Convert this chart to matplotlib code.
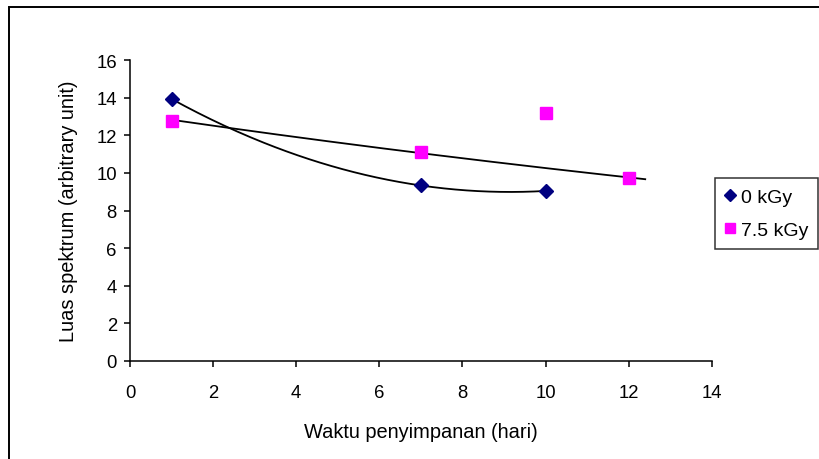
import numpy as np
import matplotlib
matplotlib.use('Agg')
import matplotlib.pyplot as plt
from matplotlib.patches import Rectangle

plt.rcParams['font.family'] = ['Liberation Sans', 'DejaVu Sans']

# hari penyimpanan dan luas spektrum
hari_0 = [1, 7, 10]
luas_0 = [13.93, 9.33, 9.04]
hari_75 = [1, 7, 10, 12]
luas_75 = [12.78, 11.13, 13.17, 9.72]
labels = ['0 kGy', '7.5 kGy']
xticks = [0, 2, 4, 6, 8, 10, 12, 14]
yticks = [0, 2, 4, 6, 8, 10, 12, 14, 16]

fig = plt.figure(figsize=(8.19, 4.6), dpi=100)
ax = fig.add_axes([130/819, 1-362/460, (711.7-130)/819, (362-61)/460])

ax.plot(hari_0, luas_0, linestyle='none', marker='D', ms=7.5, color='#000080', label=labels[0])
ax.plot(hari_75, luas_75, linestyle='none', marker='s', ms=8, color='#FF00FF', label=labels[1])

# trendline 0 kGy: polynomial (order 2)
x0 = np.array(hari_0, dtype=float)
p0 = np.polyfit(x0, luas_0, 2)
xs0 = np.linspace(x0.min(), x0.max(), 200)
ax.plot(xs0, np.polyval(p0, xs0), color='k', lw=1.3, zorder=1)

# trendline 7.5 kGy: exponential fit (day 10 left out)
x1 = np.array([hari_75[i] for i in (0, 1, 3)], dtype=float)
y1 = np.array([luas_75[i] for i in (0, 1, 3)])
b1, a1 = np.polyfit(x1, np.log(y1), 1)
xs1 = np.linspace(x1.min(), x1.max() + 0.4, 200)
ax.plot(xs1, np.exp(a1 + b1*xs1), color='k', lw=1.3, zorder=1)

ax.set_xlim(0, 14)
ax.set_ylim(0, 16)
ax.set_xticks(xticks)
ax.set_yticks(yticks)
ax.spines['top'].set_visible(False)
ax.spines['right'].set_visible(False)
for s in ['left', 'bottom']:
    ax.spines[s].set_linewidth(1.1)
ax.tick_params(direction='out', length=4.5, width=1.1, labelsize=13.3)
ax.tick_params(axis='x', pad=12)
ax.tick_params(axis='y', pad=5)

ax.set_xlabel('Waktu penyimpanan (hari)', fontsize=14.4, labelpad=15)
ax.set_ylabel('Luas spektrum (arbitrary unit)', fontsize=14.4, labelpad=13)

leg = fig.legend(loc='upper left', bbox_to_anchor=(715/819, 1-179.3/460), fontsize=14,
                 frameon=True, fancybox=False, edgecolor='k', handlelength=0.5,
                 handletextpad=0.35, borderpad=0.5, labelspacing=0.8, borderaxespad=0,
                 markerscale=0.85)
leg.get_frame().set_linewidth(1.1)

fig.patches.append(Rectangle((9/819, -0.1), 1.2, 1.1 - 8/460, transform=fig.transFigure,
                             fill=False, edgecolor='k', lw=1.4))

fig.savefig('out.png', dpi=100)
